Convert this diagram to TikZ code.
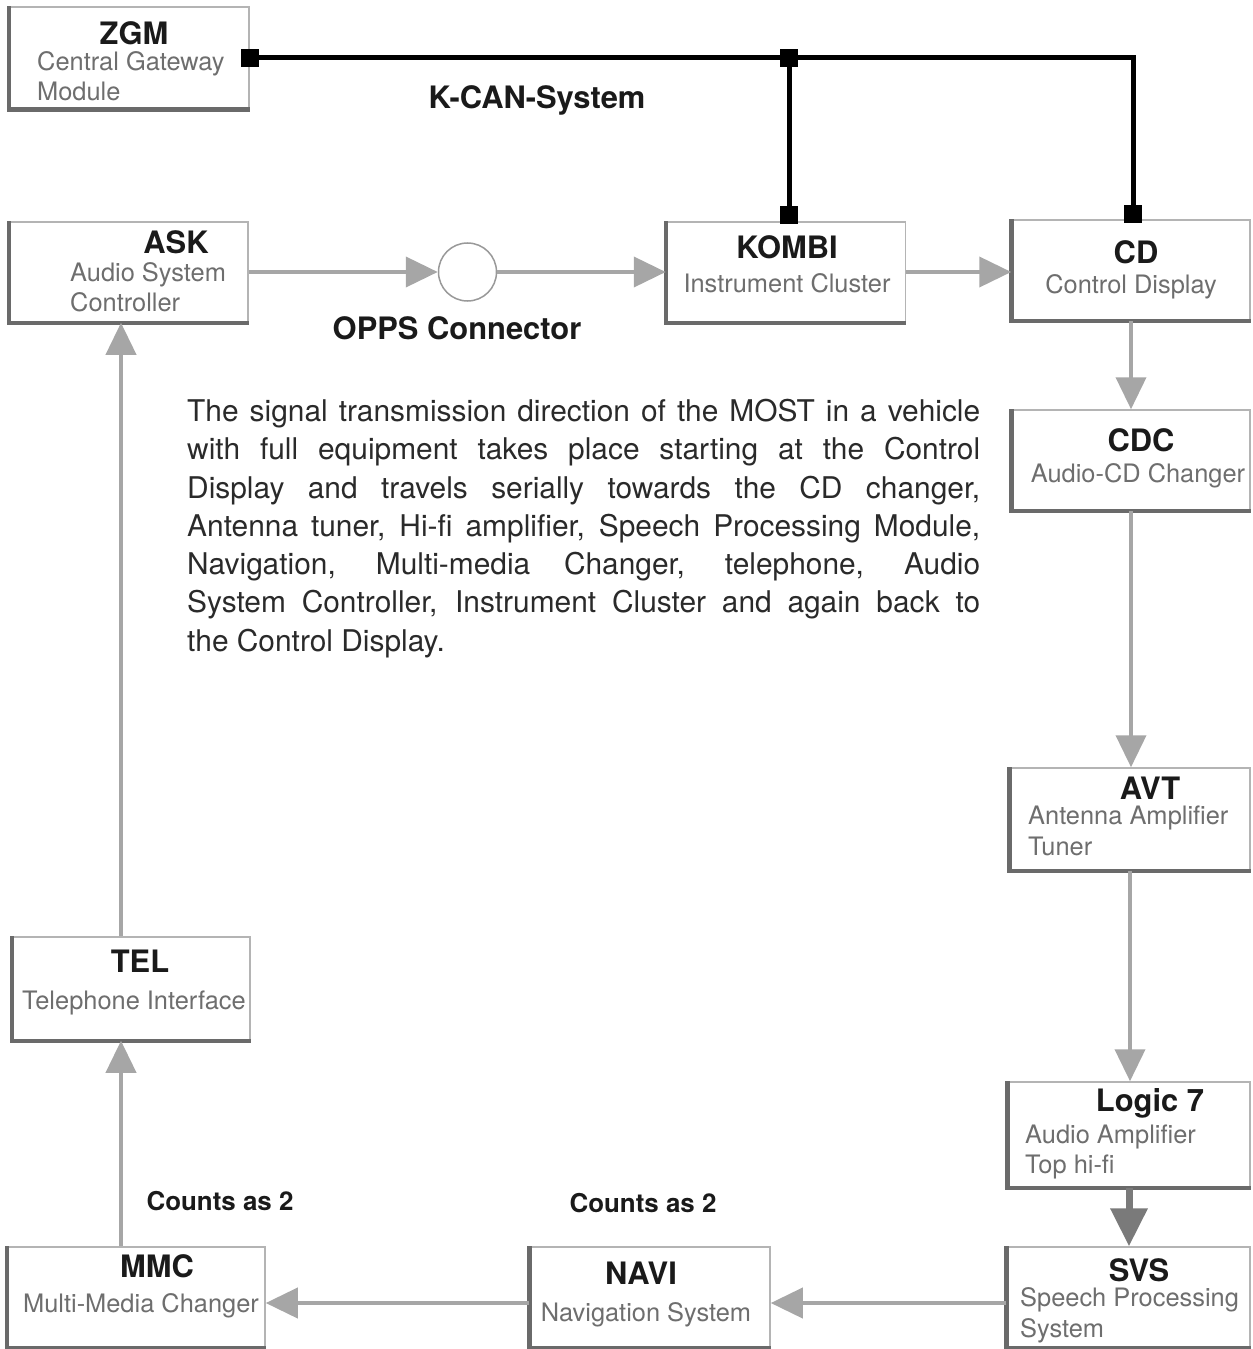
\documentclass[tikz,border=0pt]{standalone}
\usepackage{fontspec}
\setmainfont{TeX Gyre Heros}
\usetikzlibrary{arrows.meta}
\definecolor{rim}{HTML}{B4B4B4}
\definecolor{shade}{HTML}{6A6A6A}
\definecolor{flowgray}{HTML}{A6A6A6}
\definecolor{flowdark}{HTML}{7A7A7A}
\definecolor{subgray}{HTML}{6E6E6E}
\definecolor{ink}{HTML}{1A1A1A}
\definecolor{bodyink}{HTML}{2A2A2A}
\newcommand\pxfont[2]{\fontsize{#1}{#2}\selectfont}
\begin{document}
\begin{tikzpicture}[x=1bp,y=-1bp,
  unit/.style 2 args={draw=rim, line width=1.5bp, fill=white, rectangle,
    inner sep=0pt, minimum width=#1bp, minimum height=#2bp},
  edge/.style={draw=shade, line width=4.5bp, line join=miter},
  ttl/.style={font=\pxfont{31}{31}\bfseries, text=ink, inner sep=0pt, anchor=base},
  sub/.style={font=\pxfont{25.5}{26}, text=subgray, inner sep=0pt, anchor=base},
  subl/.style={sub, anchor=base west},
  lbl/.style={font=\pxfont{31}{31}\bfseries, text=ink, inner sep=0pt, anchor=base},
  note/.style={font=\pxfont{26}{26}\bfseries, text=ink, inner sep=0pt, anchor=base},
  flow/.style={draw=flowgray, line width=4bp, -{Triangle[length=32bp,width=30bp]}},
  flowheavy/.style={draw=flowdark, line width=7bp, -{Triangle[length=38bp,width=36bp]}},
  bus/.style={draw=black, line width=5bp},
  tapsq/.style={fill=black, rectangle, inner sep=0pt, minimum size=18bp},
]
\useasboundingbox (0,0) rectangle (1252,1349);

% control units
\node[unit={239}{102}] (zgm)   at (129.5,58) {};
\node[unit={238}{100}] (ask)   at (129,272) {};
\node[unit={239}{100}] (kombi) at (786,272) {};
\node[unit={238}{100}] (cd)    at (1131,270) {};
\node[unit={238}{100}] (cdc)   at (1131,460) {};
\node[unit={240}{102}] (avt)   at (1130,819) {};
\node[unit={242}{105}] (logic) at (1129,1134.5) {};
\node[unit={243}{100}] (svs)   at (1128.5,1297) {};
\node[unit={240}{100}] (navi)  at (650,1297) {};
\node[unit={257}{100}] (mmc)   at (136.5,1297) {};
\node[unit={237}{103}] (tel)   at (131.5,988.5) {};

% heavy left and bottom edges
\foreach \b in {zgm,ask,kombi,cd,cdc,avt,logic,svs,navi,mmc,tel}
  \draw[edge] (\b.north west) -- (\b.south west) -- (\b.south east);

% unit texts
\node[ttl]  (zgm-t)  at (134,45) {ZGM};
\node[subl] (zgm-a)  at (37,71) {Central Gateway};
\node[subl] (zgm-b)  at (37,101) {Module};

\node[ttl]  (ask-t)  at (176,254) {ASK};
\node[subl] (ask-a)  at (70,281) {Audio System};
\node[subl] (ask-b)  at (70,311) {Controller};

\node[ttl]  (kombi-t) at (787,259) {KOMBI};
\node[sub]  (kombi-a) at (787,292) {Instrument Cluster};

\node[ttl]  (cd-t)   at (1136,264) {CD};
\node[sub]  (cd-a)   at (1131,293) {Control Display};

\node[ttl]  (cdc-t)  at (1141,451) {CDC};
\node[sub]  (cdc-a)  at (1138,482) {Audio-CD Changer};

\node[ttl]  (avt-t)  at (1150,799) {AVT};
\node[subl] (avt-a)  at (1028,824) {Antenna Amplifier};
\node[subl] (avt-b)  at (1028,855) {Tuner};

\node[ttl]  (logic-t) at (1150,1111) {Logic 7};
\node[subl] (logic-a) at (1025,1143) {Audio Amplifier};
\node[subl] (logic-b) at (1025,1173) {Top hi-fi};

\node[ttl]  (svs-t)  at (1139,1281) {SVS};
\node[subl] (svs-a)  at (1020,1306) {Speech Processing};
\node[subl] (svs-b)  at (1020,1337) {System};

\node[ttl]  (navi-t) at (641,1284) {NAVI};
\node[sub]  (navi-a) at (646,1321) {Navigation System};

\node[ttl]  (mmc-t)  at (157,1277) {MMC};
\node[sub]  (mmc-a)  at (141,1312) {Multi-Media Changer};

\node[ttl]  (tel-t)  at (140,972) {TEL};
\node[sub]  (tel-a)  at (134,1009) {Telephone Interface};

% optical connector
\node[circle, draw=subgray!70, line width=1.5bp, fill=white, minimum size=58bp, inner sep=0pt] (opps) at (467.5,272) {};

% K-CAN bus
\coordinate (kcanx) at (789,0);
\coordinate (cdx) at (1133,0);
\draw[bus] (zgm.east) -- (zgm.east -| cdx) -- (cd.north -| cdx);
\draw[bus] (zgm.east -| kcanx) -- (kombi.north -| kcanx);
\node[tapsq] (tap-zgm)   at (zgm.east) {};
\node[tapsq] (tap-bus)   at (zgm.east -| kcanx) {};
\node[tapsq] (tap-kombi) at ([yshift=6bp]kombi.north -| kcanx) {};
\node[tapsq] (tap-cd)    at ([yshift=5bp]cd.north -| cdx) {};

% MOST ring
\coordinate (loopx) at (121,0);
\coordinate (rowy) at (0,1303);
\draw[flow] (ask.east) -- (opps.west);
\draw[flow] (opps.east) -- (kombi.west);
\draw[flow] (kombi.east) -- (kombi.east -| cd.west);
\draw[flow] (cd.south) -- (cd.south |- cdc.north);
\draw[flow] (cdc.south) -- (cdc.south |- avt.north);
\draw[flow] (avt.south) -- (avt.south |- logic.north);
\draw[flowheavy] (logic.south) -- (logic.south |- svs.north);
\draw[flow] (svs.west |- rowy) -- (navi.east |- rowy);
\draw[flow] (navi.west |- rowy) -- (mmc.east |- rowy);
\draw[flow] (mmc.north -| loopx) -- (tel.south -| loopx);
\draw[flow] (tel.north -| loopx) -- (ask.south -| loopx);

% labels
\node[lbl]  (kcan)  at (537,109) {K-CAN-System};
\node[lbl]  (oppsl) at (457,339) {OPPS Connector};
\node[note] (cnt-mmc)  at (220,1210) {Counts as 2};
\node[note] (cnt-navi) at (643,1212) {Counts as 2};

% description
\node[anchor=north west, inner sep=0pt, align=left, text=bodyink,
      font=\pxfont{30}{38.4}] (desc) at (187,399)
 {\makebox[793bp][s]{The signal transmission direction of the MOST in a vehicle}\\
  \makebox[793bp][s]{with full equipment takes place starting at the Control}\\
  \makebox[793bp][s]{Display and travels serially towards the CD changer,}\\
  \makebox[793bp][s]{Antenna tuner, Hi-fi amplifier, Speech Processing Module,}\\
  \makebox[793bp][s]{Navigation, Multi-media Changer, telephone, Audio}\\
  \makebox[793bp][s]{System Controller, Instrument Cluster and again back to}\\
  the Control Display.};
\end{tikzpicture}
\end{document}
